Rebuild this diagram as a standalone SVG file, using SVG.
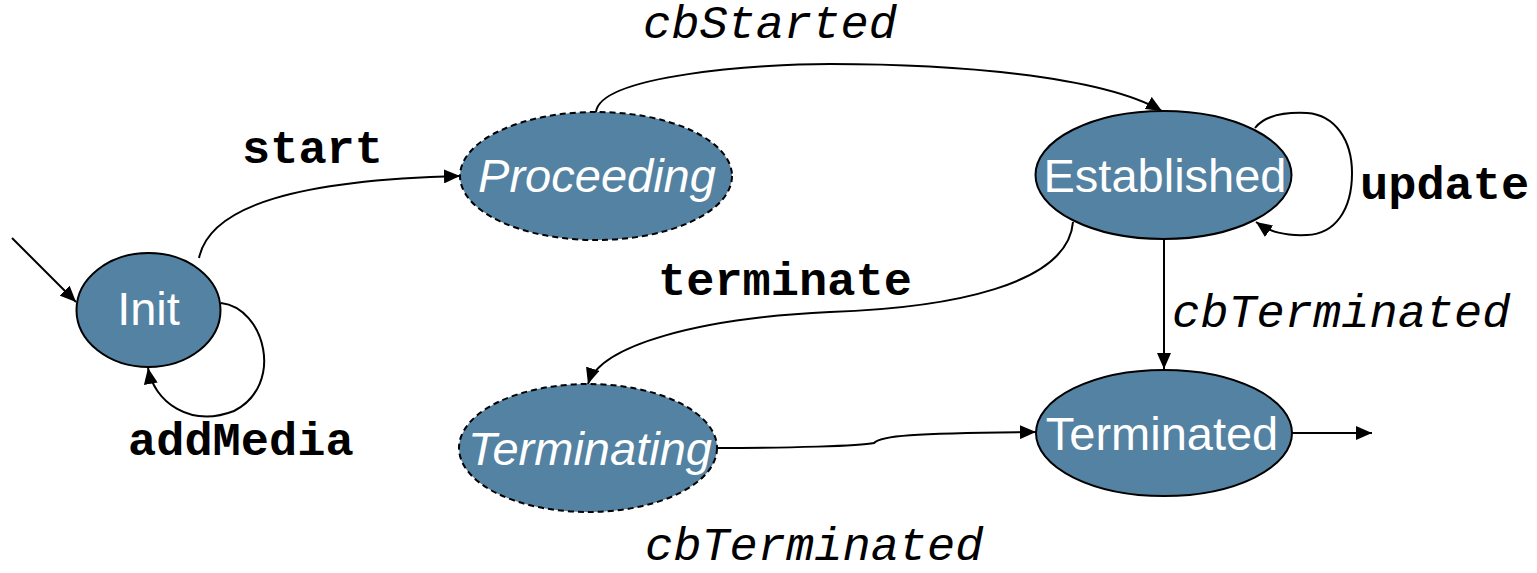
<svg xmlns="http://www.w3.org/2000/svg" width="1537" height="573" viewBox="0 0 1537 573">
<style>
.node{fill:#5482a2;stroke:#000;stroke-width:2}
.dash{stroke-dasharray:6 4}
.nl{fill:#fff;font-family:"Liberation Sans",Arial,sans-serif;font-size:47px;text-anchor:middle}
.it{font-style:italic}
.edge{fill:none;stroke:#000;stroke-width:2}
.lb{font-family:"Liberation Mono","Courier New",monospace;font-size:47px;fill:#000}
.b{font-weight:bold}
.i{font-style:italic;font-weight:normal}
</style>
<defs>
<marker id="ah" viewBox="0 0 16 14" refX="16" refY="7" markerWidth="16" markerHeight="14" markerUnits="userSpaceOnUse" orient="auto">
<path d="M0,0 L16,7 L0,14 Z" fill="#000"/>
</marker>
</defs>
<g id="connectors">
<path class="edge" d="M12,238 L76,302" marker-end="url(#ah)"/>
<path class="edge" d="M199,258 C210,205 300,180 460,176" marker-end="url(#ah)"/>
<path class="edge" d="M221,303 C265,308 285,385 234,411 C190,428 154,402 148,368" marker-end="url(#ah)"/>
<path class="edge" d="M596,112 C600,75 760,64 830,64 C950,64 1100,75 1162,111" marker-end="url(#ah)"/>
<path class="edge" d="M1255,128 C1265,115 1285,112 1307,113 C1335,115 1352,140 1352,173 C1352,210 1335,234 1307,235 C1285,236 1270,232 1256,222" marker-end="url(#ah)"/>
<path class="edge" d="M1073,222 C1068,285 950,308 830,312 C700,318 600,345 588,384" marker-end="url(#ah)"/>
<path class="edge" d="M1164,239 L1164,369" marker-end="url(#ah)"/>
<path class="edge" d="M716,448 C790,448 860,446 874,443 C880,436 910,433 1036,432" marker-end="url(#ah)"/>
<path class="edge" d="M1292,433 L1372,433" marker-end="url(#ah)"/>
</g>
<g id="init">
<ellipse class="node" cx="148.5" cy="310" rx="72" ry="57"/>
<text class="nl" x="148.5" y="325">Init</text>
</g>
<g id="proceeding">
<ellipse class="node dash" cx="596" cy="176" rx="136" ry="64"/>
<text class="nl it" x="597" y="192">Proceeding</text>
</g>
<g id="established">
<ellipse class="node" cx="1163.5" cy="175" rx="128" ry="64"/>
<text class="nl" x="1165" y="192">Established</text>
</g>
<g id="terminating">
<ellipse class="node dash" cx="588" cy="448" rx="129" ry="64"/>
<text class="nl it" x="590" y="465">Terminating</text>
</g>
<g id="terminated">
<ellipse class="node" cx="1164" cy="433" rx="128" ry="63"/>
<text class="nl" x="1162" y="450">Terminated</text>
</g>
<g id="labels">
<text class="lb i" x="643" y="38">cbStarted</text>
<text class="lb b" x="242" y="163">start</text>
<text class="lb b" x="128" y="455">addMedia</text>
<text class="lb b" x="658" y="295">terminate</text>
<text class="lb b" x="1360" y="199">update</text>
<text class="lb i" x="1172" y="327">cbTerminated</text>
<text class="lb i" x="645" y="560">cbTerminated</text>
</g>
</svg>
